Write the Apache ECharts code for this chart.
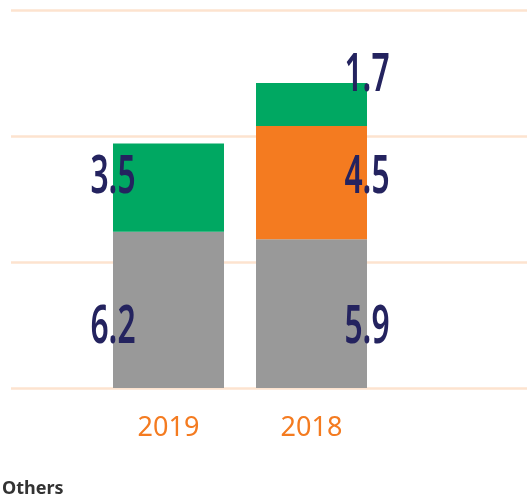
<!DOCTYPE html>
<html>
<head>
<meta charset="utf-8">
<script src="https://cdn.jsdelivr.net/npm/echarts@6/dist/echarts.min.js"></script>
<style>
  html, body { margin: 0; padding: 0; background: #fff; }
  #chart { width: 527px; height: 497px; }
</style>
</head>
<body>
<div id="chart"></div>
<script>
// data
const years = ['2019', '2018']
const othersVals = [6.2, 5.9] // grey, bottom
const orangeVals = [null, 4.5] // middle (2018 only)
const greenVals = [3.5, 1.7] // top
const yTicks = [0, 5, 10, 15]

// label nudges (px) so the numbers sit where the original puts them
const labelShift = {
  others: [18, 14],
  orange: [0, -5],
  green: [-10, -29],
}
const BAR_W = 111

const chart = echarts.init(document.getElementById('chart'))

// rows for the number labels: [category, stack base, value]
const stacks = [
  ['others', othersVals],
  ['orange', orangeVals],
  ['green', greenVals],
]
const labelRows = []
const labelKeys = []
years.forEach((_, i) => {
  let base = 0
  stacks.forEach(([key, vals]) => {
    const v = vals[i]
    if (v == null) return
    labelRows.push([i, base, v])
    labelKeys.push(key)
    base += v
  })
})

// condensed navy numbers, centred on the bar's left edge (2019) / right edge (2018)
const renderLabel = (params, api) => {
  const i = api.value(0)
  const base = api.value(1)
  const v = api.value(2)
  const top = api.coord([i, base + v])
  const bot = api.coord([i, base])
  const key = labelKeys[params.dataIndex]
  return {
    type: 'text',
    x: top[0] + (i === 0 ? -BAR_W / 2 : BAR_W / 2),
    y: (top[1] + bot[1]) / 2 + labelShift[key][i],
    scaleX: 0.6,
    style: {
      text: v.toFixed(1),
      fill: '#24235f',
      fontFamily: 'Noto Sans',
      fontWeight: 600,
      fontSize: 53,
      align: 'center',
      verticalAlign: 'middle',
    },
  }
}

const yMax = yTicks[yTicks.length - 1]
const yStep = yTicks[1] - yTicks[0]

const option = {
  animation: false,
  title: {
    text: 'Others',
    left: -3,
    top: 475,
    textStyle: { fontFamily: 'Noto Sans', fontSize: 18, fontWeight: 'bold', color: '#333' },
  },
  grid: [
    // full-width grid for the peach gridlines
    { left: 11, right: 0, top: 10, bottom: 109 },
    // bars
    { left: 97, right: 144, top: 10, bottom: 109 },
  ],
  xAxis: [
    { gridIndex: 0, type: 'category', data: years, show: false },
    {
      gridIndex: 1,
      type: 'category',
      data: years,
      axisLine: { show: false },
      axisTick: { show: false },
      axisLabel: { color: '#f47b20', fontFamily: 'Noto Sans', fontSize: 27, margin: 27 },
    },
  ],
  yAxis: [
    {
      gridIndex: 0,
      type: 'value',
      min: 0,
      max: yMax,
      interval: yStep,
      axisLabel: { show: false },
      axisLine: { show: false },
      axisTick: { show: false },
      splitLine: { lineStyle: { color: '#fde3cf', width: 2.5 } },
    },
    { gridIndex: 1, type: 'value', min: 0, max: yMax, interval: yStep, show: false, splitLine: { show: false } },
  ],
  series: [
    {
      name: 'Others',
      type: 'bar',
      stack: 'total',
      xAxisIndex: 1,
      yAxisIndex: 1,
      barWidth: BAR_W,
      itemStyle: { color: '#999999' },
      data: othersVals,
    },
    {
      name: 'Orange',
      type: 'bar',
      stack: 'total',
      xAxisIndex: 1,
      yAxisIndex: 1,
      barWidth: BAR_W,
      itemStyle: { color: '#f47b20' },
      data: orangeVals,
    },
    {
      name: 'Green',
      type: 'bar',
      stack: 'total',
      xAxisIndex: 1,
      yAxisIndex: 1,
      barWidth: BAR_W,
      itemStyle: { color: '#00a862' },
      data: greenVals,
    },
    {
      name: 'labels',
      type: 'custom',
      xAxisIndex: 1,
      yAxisIndex: 1,
      z: 5,
      encode: { x: 0, y: [1, 2] },
      renderItem: renderLabel,
      data: labelRows,
    },
  ],
}

chart.setOption(option)
</script>
</body>
</html>
